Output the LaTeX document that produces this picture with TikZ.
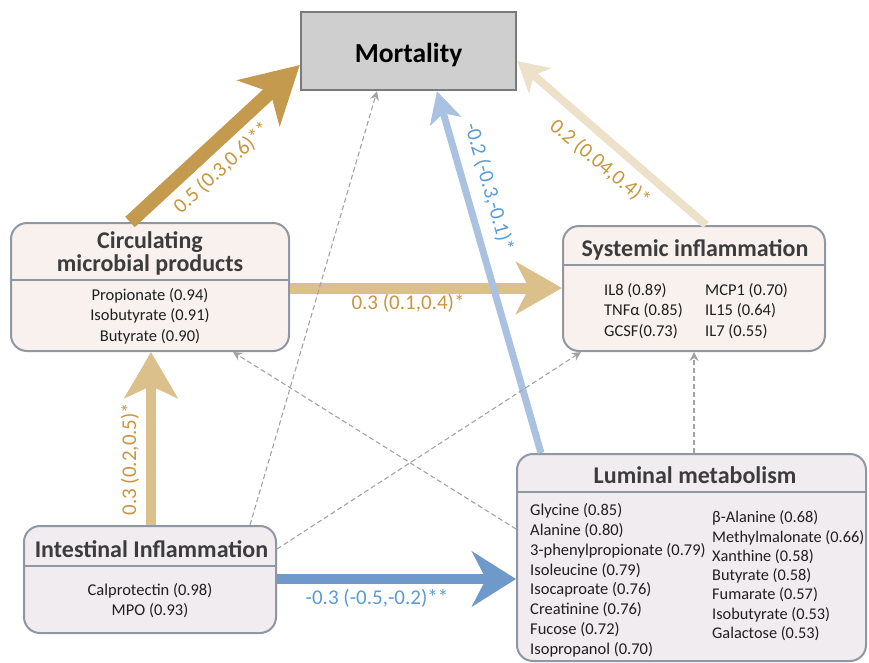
\documentclass[tikz,border=0pt]{standalone}
\usepackage{fontspec}
\setmainfont{Carlito}
\usetikzlibrary{arrows.meta}

\definecolor{boxline}{HTML}{8E97A2}
\definecolor{warmfill}{HTML}{F9F1EE}
\definecolor{coolfill}{HTML}{F0ECF0}
\definecolor{mortfill}{HTML}{CFCFCF}
\definecolor{mortline}{HTML}{7A7A7A}
\definecolor{goldarrow}{HTML}{C49A4E}
\definecolor{tanarrow}{HTML}{DBC08B}
\definecolor{beigearrow}{HTML}{EDE2C9}
\definecolor{paleblue}{HTML}{A9C2E2}
\definecolor{midblue}{HTML}{6F98CB}
\definecolor{goldtext}{HTML}{C8963E}
\definecolor{bluetext}{HTML}{5B9BD5}
\definecolor{dashgray}{HTML}{A3A3A3}
\definecolor{titlegray}{HTML}{3C3C3C}

\begin{document}
\begin{tikzpicture}[x=1pt,y=1pt,yscale=-1,
  box/.style={draw=boxline, line width=2pt, rounded corners=16pt, inner sep=0pt},
  head/.style={font=\fontsize{24}{23}\selectfont\bfseries, text=titlegray, align=center, inner sep=0pt, anchor=base},
  item/.style={font=\fontsize{16.5}{20.5}\selectfont, text=black!88, inner sep=0pt},
  coef/.style={font=\fontsize{21}{23}\selectfont, inner sep=0pt},
  dashlink/.style={draw=dashgray, line width=1.1pt, dash pattern=on 5pt off 3pt, -{Stealth[length=9pt,width=9pt,inset=3pt]}}]
\useasboundingbox (0,0) rectangle (869,662);

%Shape: boxes
\node[draw=mortline, fill=mortfill, line width=2.4pt, minimum width=215, minimum height=78, inner sep=0pt] (mort) at (408.5,51) {};
\node[box, fill=warmfill, minimum width=278, minimum height=128] (circ) at (150,287) {};
\node[box, fill=warmfill, minimum width=262, minimum height=125] (syst) at (694,288.5) {};
\node[box, fill=coolfill, minimum width=252, minimum height=107] (intest) at (150,579.5) {};
\node[box, fill=coolfill, minimum width=349, minimum height=207] (lum) at (691.5,557.5) {};

%Straight Lines: dividers
\draw[boxline, line width=2pt] (circ.west |- 0,280) -- (circ.east |- 0,280);
\draw[boxline, line width=2pt] (syst.west |- 0,265) -- (syst.east |- 0,265);
\draw[boxline, line width=2pt] (intest.west |- 0,566) -- (intest.east |- 0,566);
\draw[boxline, line width=2pt] (lum.west |- 0,492) -- (lum.east |- 0,492);

%Straight Lines: paths
\draw[goldarrow, line width=14pt, -{Stealth[length=56pt,width=62pt,inset=16pt]}] (circ.north -| 130,0) -- (mort.west |- 0,65);
\draw[beigearrow, line width=8pt, -{Stealth[length=30pt,width=33pt,inset=8pt]}] (syst.north -| 706,0) -- (mort.east |- 0,61);
\draw[tanarrow, line width=11pt, -{Stealth[length=46pt,width=52pt,inset=13pt]}] (circ.east |- 0,288) -- (syst.west |- 0,288);
\draw[paleblue, line width=7pt, -{Stealth[length=31pt,width=32pt,inset=8pt]}] (lum.north -| 541,0) -- (mort.south -| 437,0);
\draw[tanarrow, line width=10pt, -{Stealth[length=46pt,width=53pt,inset=12pt]}] (intest.north -| 151,0) -- (circ.south -| 151,0);
\draw[midblue, line width=10pt, -{Stealth[length=44pt,width=55pt,inset=14pt]}] (intest.east |- 0,579) -- (lum.west |- 0,579);

%Straight Lines: dashed paths
\draw[dashlink] (intest.north -| 250,0) -- (mort.south -| 377,0);
\draw[dashlink] (intest.east |- 0,549) -- (syst.south -| 581,0);
\draw[dashlink] (lum.west |- 0,529) -- (circ.south -| 233,0);
\draw[dashlink] (lum.north -| 694,0) -- (syst.south -| 694,0);

% Text Node
\node[head, font=\fontsize{27.5}{27}\selectfont\bfseries, text=black] (morttitle) at (408.5,62) {Mortality};
\node[head] (circtitle) at (150,271) {Circulating\\microbial products};
\node[item, align=center, anchor=base] (circitems) at (150,341) {Propionate (0.94)\\Isobutyrate (0.91)\\Butyrate (0.90)};
\node[head] (systtitle) at (695,256) {Systemic inflammation};
\node[item, align=left, anchor=base west] (systleft) at (604,336) {IL8 (0.89)\\TNFα (0.85)\\GCSF(0.73)};
\node[item, align=left, anchor=base west] (systright) at (705,336) {MCP1 (0.70)\\IL15 (0.64)\\IL7 (0.55)};
\node[head] (intesttitle) at (151.5,557) {Intestinal Inflammation};
\node[item, align=center, anchor=base] (intestitems) at (150,615.5) {Calprotectin (0.98)\\MPO (0.93)};
\node[head] (lumtitle) at (695,483) {Luminal metabolism};
\node[item, align=left, anchor=base west, font=\fontsize{16.5}{19.86}\selectfont] (lumleft) at (530,654.5) {Glycine (0.85)\\Alanine (0.80)\\3-phenylpropionate (0.79)\\Isoleucine (0.79)\\Isocaproate (0.76)\\Creatinine (0.76)\\Fucose (0.72)\\Isopropanol (0.70)};
\node[item, align=left, anchor=base west, font=\fontsize{16.3}{19.3}\selectfont] (lumright) at (712,638.5) {β-Alanine (0.68)\\Methylmalonate (0.66)\\Xanthine (0.58)\\Butyrate (0.58)\\Fumarate (0.57)\\Isobutyrate (0.53)\\Galactose (0.53)};

% Text Node: coefficients
\node[coef, text=goldtext, rotate=43] (coefcm) at (222,168) {0.5 (0.3,0.6)**};
\node[coef, text=goldtext, rotate=-40] (coefsm) at (600,163) {0.2 (0.04,0.4)*};
\node[coef, text=bluetext, rotate=-74] (coeflm) at (489,187) {-0.2 (-0.3,-0.1)*};
\node[coef, text=goldtext] (coefcs) at (408,303) {0.3 (0.1,0.4)*};
\node[coef, text=goldtext, rotate=90] (coefic) at (130,459) {0.3 (0.2,0.5)*};
\node[coef, text=bluetext] (coefil) at (377,598) {-0.3 (-0.5,-0.2)**};

\end{tikzpicture}
\end{document}
